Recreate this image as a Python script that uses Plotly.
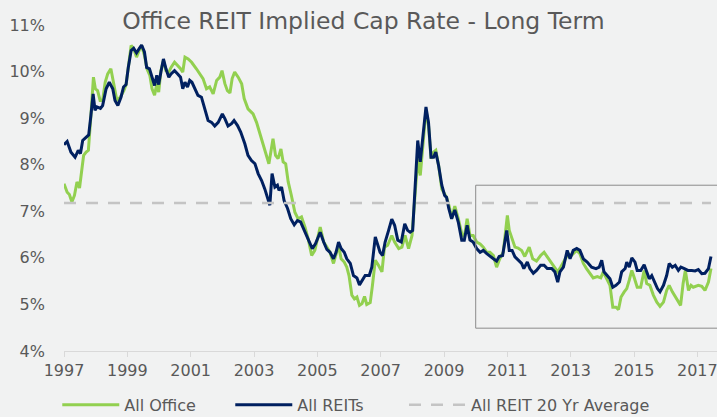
import plotly.graph_objects as go

# ---- Data (decimal years, cap rate %) ----
office_years = [
    1997.00, 1997.10, 1997.17, 1997.25, 1997.33, 1997.41, 1997.49, 1997.56, 1997.62, 1997.70,
    1997.77, 1997.85, 1997.93, 1997.99, 1998.06, 1998.14, 1998.22, 1998.30, 1998.38, 1998.48,
    1998.57, 1998.67, 1998.78, 1998.89, 1998.96, 1999.03, 1999.12, 1999.20, 1999.29, 1999.37,
    1999.45, 1999.54, 1999.62, 1999.71, 1999.78, 1999.86, 1999.93, 1999.99, 2000.06, 2000.14,
    2000.22, 2000.31, 2000.38, 2000.49, 2000.59, 2000.68, 2000.75, 2000.82, 2000.92, 2001.03,
    2001.18, 2001.29, 2001.39, 2001.50, 2001.60, 2001.71, 2001.82, 2001.92, 2001.99, 2002.08,
    2002.16, 2002.24, 2002.31, 2002.39, 2002.50, 2002.61, 2002.69, 2002.81, 2002.97, 2003.08,
    2003.18, 2003.29, 2003.39, 2003.47, 2003.53, 2003.60, 2003.68, 2003.76, 2003.85, 2003.92,
    2004.00, 2004.08, 2004.18, 2004.29, 2004.39, 2004.50, 2004.61, 2004.71, 2004.82, 2004.92,
    2005.09, 2005.20, 2005.30, 2005.40, 2005.51, 2005.59, 2005.67, 2005.75, 2005.85, 2005.93,
    2006.00, 2006.09, 2006.17, 2006.25, 2006.33, 2006.41, 2006.49, 2006.56, 2006.67, 2006.74,
    2006.83, 2006.93, 2007.04, 2007.12, 2007.22, 2007.35, 2007.44, 2007.57, 2007.67, 2007.77,
    2007.88, 2007.99, 2008.09, 2008.17, 2008.25, 2008.33, 2008.43, 2008.51, 2008.59, 2008.67,
    2008.74, 2008.83, 2008.93, 2009.08, 2009.17, 2009.24, 2009.34, 2009.45, 2009.56, 2009.64,
    2009.73, 2009.82, 2009.92, 2010.03, 2010.14, 2010.24, 2010.35, 2010.45, 2010.56, 2010.66,
    2010.76, 2010.87, 2010.95, 2011.00, 2011.06, 2011.15, 2011.24, 2011.34, 2011.45, 2011.55,
    2011.69, 2011.80, 2011.92, 2012.05, 2012.16, 2012.26, 2012.40, 2012.50, 2012.59, 2012.68,
    2012.81, 2012.92, 2013.02, 2013.19, 2013.29, 2013.40, 2013.50, 2013.61, 2013.71, 2013.84,
    2013.95, 2014.03, 2014.14, 2014.24, 2014.33, 2014.43, 2014.51, 2014.59, 2014.69, 2014.77,
    2014.85, 2014.93, 2015.00, 2015.10, 2015.21, 2015.32, 2015.40, 2015.50, 2015.61, 2015.72,
    2015.82, 2015.93, 2016.03, 2016.11, 2016.21, 2016.30, 2016.38, 2016.47, 2016.55, 2016.62,
    2016.72, 2016.80, 2016.87, 2017.03, 2017.14, 2017.24, 2017.35, 2017.43,
]
office_values = [
    7.59, 7.41, 7.36, 7.20, 7.34, 7.63, 7.50, 7.95, 8.20, 8.27,
    8.31, 9.06, 9.88, 9.63, 9.59, 9.38, 9.38, 9.77, 9.95, 10.06,
    9.74, 9.38, 9.45, 9.59, 9.72, 10.13, 10.56, 10.49, 10.31, 10.45,
    10.56, 10.35, 10.06, 9.92, 9.63, 9.49, 9.74, 9.56, 10.02, 10.24,
    10.02, 9.99, 10.09, 10.20, 10.13, 10.06, 9.99, 10.31, 10.27, 10.20,
    10.06, 9.95, 9.85, 9.63, 9.67, 9.52, 9.81, 9.88, 10.02, 9.74,
    9.59, 9.54, 9.85, 9.99, 9.88, 9.74, 9.42, 9.20, 9.09, 8.91,
    8.67, 8.45, 8.20, 8.02, 8.27, 8.56, 8.20, 8.13, 8.34, 8.06,
    8.02, 7.63, 7.34, 6.98, 6.84, 6.88, 6.66, 6.41, 6.05, 6.16,
    6.66, 6.34, 6.23, 6.12, 5.88, 6.05, 6.27, 5.98, 5.91, 5.80,
    5.62, 5.20, 5.12, 5.16, 4.98, 5.02, 5.17, 5.00, 5.04, 5.41,
    5.95, 5.84, 5.70, 6.23, 6.27, 6.48, 6.34, 6.20, 6.23, 6.48,
    6.20, 6.48, 7.34, 8.13, 7.77, 8.41, 9.17, 8.85, 8.13, 8.27,
    8.31, 7.98, 7.48, 7.30, 7.09, 6.84, 7.11, 6.84, 6.52, 6.45,
    6.84, 6.48, 6.48, 6.34, 6.30, 6.23, 6.12, 6.12, 6.05, 5.80,
    5.98, 6.12, 6.59, 6.91, 6.59, 6.41, 6.23, 6.21, 6.16, 6.03,
    6.23, 5.98, 5.93, 6.05, 6.12, 6.02, 5.88, 5.80, 5.70, 5.80,
    5.95, 6.09, 6.05, 6.16, 6.09, 5.88, 5.77, 5.66, 5.57, 5.60,
    5.57, 5.70, 5.55, 5.41, 4.94, 4.94, 4.89, 5.16, 5.27, 5.34,
    5.52, 5.73, 5.59, 5.37, 5.37, 5.73, 5.45, 5.41, 5.20, 5.05,
    4.96, 5.05, 5.30, 5.41, 5.27, 5.16, 5.09, 4.98, 5.45, 5.73,
    5.30, 5.41, 5.37, 5.41, 5.39, 5.30, 5.48, 5.77,
]

reits_years = [
    1997.00, 1997.10, 1997.22, 1997.35, 1997.45, 1997.52, 1997.59, 1997.70, 1997.78, 1997.85,
    1997.92, 1997.98, 1998.04, 1998.15, 1998.22, 1998.33, 1998.43, 1998.54, 1998.61, 1998.70,
    1998.80, 1998.88, 1998.96, 1999.03, 1999.12, 1999.20, 1999.29, 1999.37, 1999.45, 1999.54,
    1999.61, 1999.70, 1999.77, 1999.86, 1999.93, 1999.99, 2000.06, 2000.14, 2000.22, 2000.31,
    2000.38, 2000.49, 2000.59, 2000.68, 2000.75, 2000.82, 2000.90, 2000.97, 2001.04, 2001.13,
    2001.23, 2001.34, 2001.45, 2001.55, 2001.66, 2001.76, 2001.87, 2002.00, 2002.08, 2002.18,
    2002.29, 2002.37, 2002.48, 2002.58, 2002.71, 2002.81, 2002.92, 2003.03, 2003.13, 2003.24,
    2003.34, 2003.43, 2003.50, 2003.57, 2003.66, 2003.74, 2003.79, 2003.87, 2003.95, 2004.06,
    2004.16, 2004.27, 2004.37, 2004.47, 2004.61, 2004.71, 2004.84, 2004.94, 2005.09, 2005.20,
    2005.30, 2005.40, 2005.51, 2005.59, 2005.67, 2005.75, 2005.85, 2005.93, 2006.04, 2006.14,
    2006.25, 2006.33, 2006.43, 2006.51, 2006.64, 2006.72, 2006.83, 2006.91, 2006.98, 2007.06,
    2007.14, 2007.25, 2007.35, 2007.44, 2007.54, 2007.65, 2007.76, 2007.85, 2007.93, 2008.01,
    2008.09, 2008.17, 2008.25, 2008.33, 2008.43, 2008.51, 2008.59, 2008.67, 2008.74, 2008.83,
    2008.93, 2009.02, 2009.08, 2009.15, 2009.24, 2009.34, 2009.45, 2009.56, 2009.64, 2009.73,
    2009.82, 2009.92, 2010.03, 2010.14, 2010.24, 2010.35, 2010.45, 2010.56, 2010.66, 2010.74,
    2010.85, 2010.90, 2010.98, 2011.06, 2011.15, 2011.24, 2011.34, 2011.45, 2011.52, 2011.63,
    2011.71, 2011.82, 2011.92, 2012.05, 2012.16, 2012.26, 2012.40, 2012.50, 2012.59, 2012.66,
    2012.77, 2012.89, 2012.98, 2013.08, 2013.19, 2013.29, 2013.40, 2013.52, 2013.66, 2013.80,
    2013.90, 2013.98, 2014.05, 2014.16, 2014.24, 2014.33, 2014.43, 2014.54, 2014.61, 2014.72,
    2014.77, 2014.85, 2014.93, 2015.03, 2015.10, 2015.21, 2015.32, 2015.40, 2015.48, 2015.56,
    2015.64, 2015.74, 2015.82, 2015.93, 2016.03, 2016.11, 2016.21, 2016.30, 2016.40, 2016.48,
    2016.59, 2016.70, 2016.82, 2016.93, 2017.03, 2017.14, 2017.24, 2017.35, 2017.43,
]
reits_values = [
    8.43, 8.50, 8.27, 8.16, 8.31, 8.24, 8.52, 8.59, 8.64, 9.06,
    9.52, 9.17, 9.24, 9.21, 9.27, 9.63, 9.77, 9.63, 9.38, 9.27,
    9.45, 9.67, 9.72, 10.09, 10.45, 10.50, 10.40, 10.49, 10.57, 10.42,
    10.09, 10.06, 9.88, 9.70, 9.92, 9.72, 9.99, 10.27, 10.06, 9.88,
    9.95, 10.02, 9.95, 9.88, 9.63, 9.77, 9.67, 9.81, 9.77, 9.63,
    9.49, 9.45, 9.20, 8.95, 8.91, 8.83, 8.91, 9.09, 8.99, 8.83,
    8.88, 8.95, 8.84, 8.70, 8.45, 8.20, 8.09, 8.02, 7.81, 7.66,
    7.48, 7.30, 7.13, 7.81, 7.52, 7.56, 7.45, 7.52, 7.23, 7.06,
    6.84, 6.71, 6.80, 6.77, 6.55, 6.41, 6.20, 6.30, 6.55, 6.34,
    6.18, 6.12, 5.98, 6.12, 6.34, 6.20, 6.12, 5.98, 5.88, 5.62,
    5.57, 5.42, 5.55, 5.62, 5.62, 5.80, 6.45, 6.27, 6.12, 6.05,
    6.34, 6.59, 6.83, 6.70, 6.38, 6.34, 6.73, 6.59, 6.55, 6.59,
    7.63, 8.52, 8.06, 8.63, 9.24, 8.91, 8.16, 8.16, 8.27, 7.98,
    7.56, 7.34, 7.30, 7.06, 6.84, 7.03, 6.77, 6.38, 6.38, 6.70,
    6.38, 6.34, 6.20, 6.12, 6.16, 6.09, 6.03, 5.98, 5.93, 6.03,
    6.05, 6.23, 6.59, 6.16, 6.16, 6.02, 5.95, 5.88, 5.77, 5.91,
    5.77, 5.67, 5.73, 5.84, 5.84, 5.77, 5.77, 5.70, 5.48, 5.70,
    5.80, 6.16, 5.98, 6.16, 6.20, 6.16, 5.98, 5.91, 5.80, 5.77,
    5.80, 5.95, 5.70, 5.62, 5.55, 5.37, 5.41, 5.48, 5.70, 5.77,
    5.91, 5.80, 6.00, 5.91, 5.73, 5.73, 5.85, 5.70, 5.55, 5.62,
    5.48, 5.34, 5.27, 5.41, 5.62, 5.88, 5.80, 5.84, 5.73, 5.80,
    5.77, 5.73, 5.73, 5.72, 5.75, 5.66, 5.67, 5.77, 6.03,
]

avg_value = 7.18
tick_years = [1997, 1999, 2001, 2003, 2005, 2007, 2009, 2011, 2013, 2015, 2017]
y_ticks = [4, 5, 6, 7, 8, 9, 10, 11]

# highlight box (recent period)
box_x0, box_x1 = 2010.0, 2017.7
box_y0, box_y1 = 4.49, 7.56

GREEN = "#92D050"
NAVY = "#002060"
GRAY_DASH = "#C4C4C4"
TEXT = "#595959"
BG = "#F1F2F2"
FONT = "DejaVu Sans"

fig = go.Figure()
fig.add_trace(go.Scatter(x=office_years, y=office_values, mode="lines", name="All Office",
                         line=dict(color=GREEN, width=3), legend="legend"))
fig.add_trace(go.Scatter(x=reits_years, y=reits_values, mode="lines", name="All REITs",
                         line=dict(color=NAVY, width=3), legend="legend"))
fig.add_trace(go.Scatter(x=[reits_years[0], reits_years[-1]], y=[avg_value, avg_value],
                         mode="lines", name="All REIT 20 Yr Average",
                         line=dict(color=GRAY_DASH, width=2.5, dash="12px,10px"),
                         legend="legend2"))

fig.add_shape(type="rect", xref="x", yref="y", x0=box_x0, x1=box_x1, y0=box_y0, y1=box_y1,
              line=dict(color="#8C8C8C", width=1), fillcolor="rgba(0,0,0,0)", layer="above")

legend_common = dict(orientation="h", y=-0.165, yanchor="middle", xanchor="left",
                     font=dict(size=16, color=TEXT, family=FONT), itemwidth=57,
                     bgcolor="rgba(0,0,0,0)")

fig.update_layout(
    width=717, height=417,
    margin=dict(l=64, r=0, t=25, b=66, autoexpand=False),
    paper_bgcolor=BG, plot_bgcolor=BG,
    font=dict(family=FONT, size=16, color=TEXT),
    title=dict(text="Office REIT Implied Cap Rate - Long Term", x=0.507, xanchor="center",
               xref="container", y=0.95, yanchor="middle",
               font=dict(size=23.5, color=TEXT, family=FONT)),
    showlegend=True,
    legend=dict(x=-0.0103, entrywidth=101, entrywidthmode="pixels", **legend_common),
    legend2=dict(x=0.5207, **legend_common),
    xaxis=dict(range=[1997, 2017.62], tickvals=tick_years, ticktext=[str(t) for t in tick_years],
               showgrid=False, zeroline=False, showline=True, linecolor="#D9D9D9", linewidth=1,
               ticks="outside", ticklen=5, tickcolor="#D9D9D9", ticklabeloverflow="allow",
               tickfont=dict(size=16, color=TEXT)),
    yaxis=dict(range=[4, 11], tickvals=y_ticks, ticktext=[f"{v}%" for v in y_ticks],
               showgrid=False, zeroline=False, showline=False, ticks="",
               ticklabelstandoff=18, tickfont=dict(size=16, color=TEXT)),
)

fig.write_html(
    "out.html",
    config={"displayModeBar": False},
    post_script="document.body.style.margin='0';document.body.style.overflow='hidden';"
                "document.body.style.background='" + BG + "';",
)
